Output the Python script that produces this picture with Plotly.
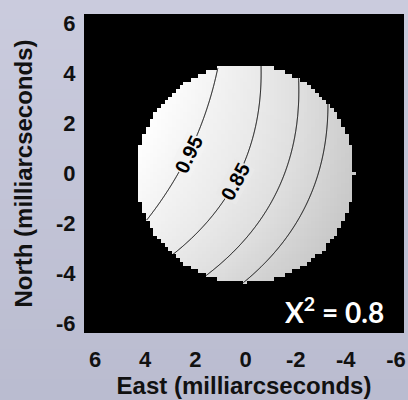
import numpy as np
import plotly.graph_objects as go

# Axis ticks (milliarcseconds)
x_tickvals = [6, 4, 2, 0, -2, -4, -6]
x_ticktext = ["6", "4", "2", "0", "-2", "-4", "-6"]
y_tickvals = [6, 4, 2, 0, -2, -4, -6]
y_ticktext = ["6", "4", "2", "0", "-2", "-4", "-6"]

# Stellar disk (East, North in mas)
disk_center = [0.0, 0.0]
disk_radius = 4.35

# Brightness model: iso-intensity curves s = s0 + k * t^2, where s runs along the
# projected pole direction and t across it (mas).
pole_dir = [0.906, 0.423]
curve_intensity = [1.07, 0.95, 0.85, 0.75, 0.65, 0.51]
curve_s0 = [4.50, 2.39, 0.22, -1.44, -2.72, -4.50]
curve_k = [0.035, 0.035, 0.060, 0.060, 0.060, 0.060]

contour_levels = [0.95, 0.85, 0.75, 0.65]
labelled_levels = [0.95, 0.85]
label_offset = [-0.28, -0.48]      # label position across the pole axis (mas)

chi2_value = 0.8

# grey ramp used for the disk
z_lo, z_hi = 0.45, 1.07
grey_lo, grey_hi = 193, 255

perp_dir = [-pole_dir[1], pole_dir[0]]


def intensity(ex, ny):
    ex = np.asarray(ex, dtype=float)
    ny = np.asarray(ny, dtype=float)
    dx, dy = ex - disk_center[0], ny - disk_center[1]
    s = dx * pole_dir[0] + dy * pole_dir[1]
    t = dx * perp_dir[0] + dy * perp_dir[1]
    S = [a + k * t ** 2 for a, k in zip(curve_s0, curve_k)]
    out = np.full(s.shape, np.nan)
    n = len(S)
    for i in range(n - 1):
        hi, lo = S[i], S[i + 1]
        frac = (hi - s) / (hi - lo)
        val = curve_intensity[i] + frac * (curve_intensity[i + 1] - curve_intensity[i])
        m = (s <= hi) & (s > lo)
        if i == 0:
            m |= s > hi
        if i == n - 2:
            m |= s <= lo
        out = np.where(m, val, out)
    return out


def grey(v):
    g = grey_lo + (v - z_lo) / (z_hi - z_lo) * (grey_hi - grey_lo)
    g = int(round(min(max(g, 0), 255)))
    return f"rgb({g},{g},{g})"


# Pixelated disk image
step = 0.15
gx = np.arange(-6.45, 6.46, step)
gy = np.arange(-6.45, 6.46, step)
GX, GY = np.meshgrid(gx, gy)
img = intensity(GX, GY)
inside = np.hypot(GX - disk_center[0], GY - disk_center[1]) <= disk_radius
img = np.where(inside, img, np.nan)

# Smooth field for the contour lines
fx = np.linspace(-6.4, 6.4, 321)
fy = np.linspace(-6.4, 6.4, 321)
FX, FY = np.meshgrid(fx, fy)
field = intensity(FX, FY)
field = np.where(np.hypot(FX, FY) <= disk_radius + 0.02, field, np.nan)

fig = go.Figure()

fig.add_trace(go.Heatmap(
    x=gx, y=gy, z=img,
    zmin=z_lo, zmax=z_hi,
    colorscale=[[0, grey(z_lo)], [1, grey(z_hi)]],
    showscale=False, zsmooth=False, hoverinfo="skip",
))

fig.add_trace(go.Contour(
    x=fx, y=fy, z=field,
    contours=dict(start=min(contour_levels), end=max(contour_levels),
                  size=0.1, coloring="none", showlabels=False),
    line=dict(color="black", width=1),
    showscale=False, hoverinfo="skip",
))

# Inline labels sitting on two of the contours
for lev, t in zip(labelled_levels, label_offset):
    i = curve_intensity.index(lev)
    k = curve_k[i]
    s = curve_s0[i] + k * t ** 2
    lx = disk_center[0] + s * pole_dir[0] + t * perp_dir[0]
    ly = disk_center[1] + s * pole_dir[1] + t * perp_dir[1]
    # tangent of the curve, in screen orientation (East axis reversed)
    vx = 2 * k * t * pole_dir[0] + perp_dir[0]
    vy = 2 * k * t * pole_dir[1] + perp_dir[1]
    ang = np.degrees(np.arctan2(-vy, -vx))
    fig.add_annotation(
        x=lx, y=ly, xref="x", yref="y", text=f"{lev:.2f}", showarrow=False,
        textangle=ang, bgcolor=grey(float(intensity(lx, ly))), borderpad=0,
        font=dict(family="Liberation Sans", size=20, color="black", weight="bold"),
    )

fig.add_annotation(
    x=-3.56, y=-5.46, xref="x", yref="y", showarrow=False,
    text=f"Χ<sup>2</sup> = {chi2_value}",
    font=dict(family="Lato", size=28, color="white", weight="bold"),
)

# Background: soft vertical lavender gradient, then the black plot area
W, H = 408, 400
ml, mr, mt, mb = 84, 4, 14, 67
pw, ph = W - ml - mr, H - mt - mb
top_c = np.array([203, 204, 222])
bot_c = np.array([186, 188, 208])
nb = 40
shapes = []
for i in range(nb):
    y0px, y1px = i * H / nb, (i + 1) * H / nb
    c = top_c + (bot_c - top_c) * (i + 0.5) / nb
    shapes.append(dict(
        type="rect", xref="paper", yref="paper", layer="below",
        x0=-ml / pw - 0.01, x1=1 + mr / pw + 0.01,
        y0=(H - mb - y1px) / ph - 0.002, y1=(H - mb - y0px) / ph + 0.002,
        fillcolor=f"rgb({int(c[0])},{int(c[1])},{int(c[2])})", line=dict(width=0),
    ))
shapes.append(dict(type="rect", xref="paper", yref="paper", layer="below",
                   x0=0, x1=1, y0=0, y1=1, fillcolor="black", line=dict(width=0)))

tick_font = dict(family="Liberation Sans", size=22, color="#111111", weight="bold")
title_font = dict(family="Liberation Sans", size=24, color="#111111", weight="bold")

fig.update_layout(
    width=W, height=H,
    margin=dict(l=ml, r=mr, t=mt, b=mb),
    paper_bgcolor="rgb(196,197,216)",
    plot_bgcolor="black",
    shapes=shapes,
    showlegend=False,
    xaxis=dict(
        range=[6.44, -6.32], tickvals=x_tickvals, ticktext=x_ticktext,
        showgrid=False, zeroline=False, showline=False,
        ticks="outside", ticklen=7, tickcolor="rgba(0,0,0,0)",
        tickfont=tick_font,
        title=dict(text="East (milliarcseconds)", font=title_font, standoff=2),
        automargin=False,
    ),
    yaxis=dict(
        range=[-6.37, 6.37], tickvals=y_tickvals, ticktext=y_ticktext,
        showgrid=False, zeroline=False, showline=False,
        ticks="outside", ticklen=3, tickcolor="rgba(0,0,0,0)",
        tickfont=tick_font,
        title=dict(text="North (milliarcseconds)", font=title_font, standoff=16),
        automargin=False,
    ),
)

fig.write_html("out.html")
